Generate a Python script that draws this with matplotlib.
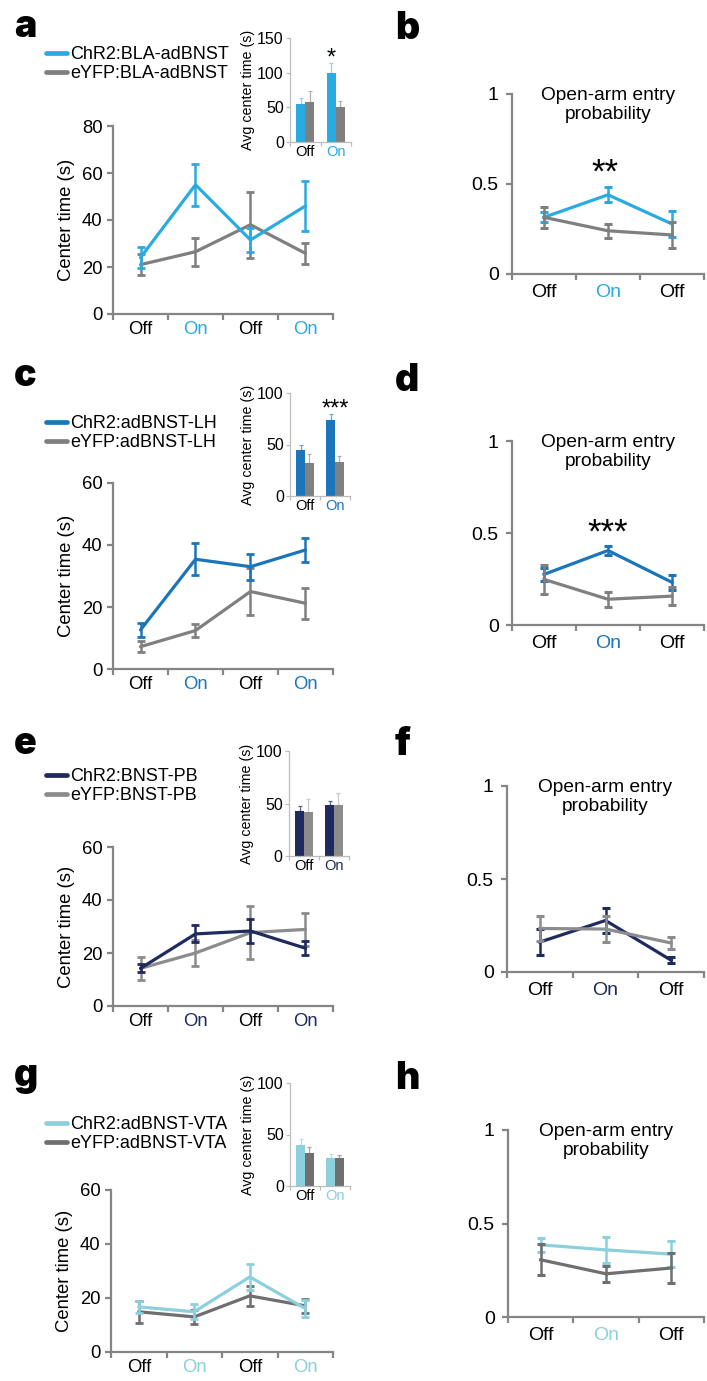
import matplotlib
matplotlib.use("Agg")
import matplotlib.pyplot as plt
from matplotlib import font_manager
import numpy as np

plt.rcParams['font.family'] = ['Liberation Sans', 'DejaVu Sans']

W, H = 707, 1381

# ---------------- data ----------------
labels4 = ['Off', 'On', 'Off', 'On']
labels3 = ['Off', 'On', 'Off']
inset_labels = ['Off', 'On']

a_names = ['ChR2:BLA-adBNST', 'eYFP:BLA-adBNST']
a_chr2 = [24, 55, 31.5, 46]
a_chr2_err = [4.5, 9, 5, 10.5]
a_eyfp = [21, 26.5, 38, 25.8]
a_eyfp_err = [4.4, 6, 14, 4.6]
a_in_chr2 = [55, 99]
a_in_chr2_err = [8, 15]
a_in_eyfp = [58, 51]
a_in_eyfp_err = [16, 8.5]
b_chr2 = [0.315, 0.44, 0.278]
b_chr2_err = [0.028, 0.042, 0.07]
b_eyfp = [0.315, 0.24, 0.217]
b_eyfp_err = [0.06, 0.04, 0.074]

c_names = ['ChR2:adBNST-LH', 'eYFP:adBNST-LH']
c_chr2 = [12.6, 35.4, 33, 38.4]
c_chr2_err = [2.2, 5.2, 4.2, 3.9]
c_eyfp = [7.2, 12.4, 25, 21.2]
c_eyfp_err = [1.8, 2, 7.7, 5]
c_in_chr2 = [45, 73.5]
c_in_chr2_err = [5, 6.5]
c_in_eyfp = [31.6, 33.2]
c_in_eyfp_err = [8.7, 5.5]
d_chr2 = [0.275, 0.405, 0.232]
d_chr2_err = [0.035, 0.025, 0.04]
d_eyfp = [0.248, 0.14, 0.157]
d_eyfp_err = [0.08, 0.04, 0.05]

e_names = ['ChR2:BNST-PB', 'eYFP:BNST-PB']
e_chr2 = [14.2, 27.2, 28.3, 21.8]
e_chr2_err = [1.5, 3.2, 4.6, 2.6]
e_eyfp = [14.2, 20, 27.7, 28.9]
e_eyfp_err = [4.4, 5, 10, 6.2]
e_in_chr2 = [43, 49]
e_in_chr2_err = [4.6, 3]
e_in_eyfp = [41.6, 49]
e_in_eyfp_err = [12.7, 11]
f_chr2 = [0.161, 0.277, 0.063]
f_chr2_err = [0.068, 0.067, 0.016]
f_eyfp = [0.234, 0.231, 0.156]
f_eyfp_err = [0.066, 0.068, 0.034]

g_names = ['ChR2:adBNST-VTA', 'eYFP:adBNST-VTA']
g_chr2 = [16.7, 14.9, 27.8, 16.1]
g_chr2_err = [2.3, 2.7, 4.7, 3]
g_eyfp = [14.9, 13, 20.8, 17.1]
g_eyfp_err = [4, 2.7, 3.6, 2.7]
g_in_chr2 = [39.7, 26.8]
g_in_chr2_err = [5.5, 3.8]
g_in_eyfp = [31.6, 26.8]
g_in_eyfp_err = [6.4, 3.2]
h_chr2 = [0.386, 0.359, 0.336]
h_chr2_err = [0.036, 0.068, 0.068]
h_eyfp = [0.306, 0.231, 0.262]
h_eyfp_err = [0.083, 0.042, 0.08]

# ---------------- styling ----------------
SPINE = '#858585'
INSPINE = '#BDBDBD'

# heavy font for panel letters if available
_heavy = None
for f in font_manager.fontManager.ttflist:
    if f.name in ('Lato', 'Inter', 'Roboto') and f.weight >= 850 and f.style == 'normal':
        _heavy = f.name
        break
LETTER_FAMILY = [_heavy, 'Liberation Sans'] if _heavy else ['Liberation Sans']
LETTER_WEIGHT = 900 if _heavy else 'bold'

fig = plt.figure(figsize=(W / 100, H / 100), dpi=100)


def px_axes(x0, x1, ytop, ybot):
    return fig.add_axes([x0 / W, 1 - ybot / H, (x1 - x0) / W, (ybot - ytop) / H])


def style_axes(ax, ncat, xlabels, ccol, tick_fs, spine_lw=1.6, spine_col=SPINE,
               ticklen=4.5, xpad=5, ypad=3):
    for s in ['top', 'right']:
        ax.spines[s].set_visible(False)
    for s in ['left', 'bottom']:
        ax.spines[s].set_color(spine_col)
        ax.spines[s].set_linewidth(spine_lw)
    xs = np.arange(1, ncat + 1)
    ax.set_xticks(xs)
    ax.set_xticklabels(xlabels, fontsize=tick_fs)
    for t, lab in zip(ax.get_xticklabels(), xlabels):
        t.set_color(ccol if lab == 'On' else 'black')
    ax.set_xticks(np.arange(0.5, ncat + 1, 1.0), minor=True)
    ax.tick_params(axis='x', which='major', length=0, pad=xpad)
    ax.tick_params(axis='x', which='minor', length=ticklen, width=spine_lw,
                   color=spine_col, direction='out')
    ax.tick_params(axis='y', which='major', length=ticklen, width=spine_lw,
                   color=spine_col, direction='out', labelsize=tick_fs, pad=ypad)


def main_panel(ax, chr2, chr2_err, eyfp, eyfp_err, ccol, gcol, ymax, yticks, names,
               leg_xy):
    xs = np.arange(1, len(chr2) + 1)
    lg, = ax.plot(xs, eyfp, color=gcol, lw=2.3, solid_capstyle='round', zorder=2)
    ax.errorbar(xs, eyfp, yerr=eyfp_err, fmt='none', ecolor=gcol, elinewidth=1.8,
                capsize=3, capthick=2, zorder=2)
    lc, = ax.plot(xs, chr2, color=ccol, lw=2.3, solid_capstyle='round', zorder=3)
    ax.errorbar(xs, chr2, yerr=chr2_err, fmt='none', ecolor=ccol, elinewidth=1.8,
                capsize=3, capthick=2, zorder=3)
    ax.set_xlim(0.5, 4.5)
    ax.set_ylim(0, ymax)
    ax.set_yticks(yticks)
    style_axes(ax, 4, labels4, ccol, 13.3, xpad=5)
    ax.set_ylabel('Center time (s)', fontsize=13.3, labelpad=5)
    leg = ax.legend([lc, lg], names, loc='upper left',
                    bbox_to_anchor=(leg_xy[0] / W, 1 - leg_xy[1] / H),
                    bbox_transform=fig.transFigure, frameon=False, borderpad=0,
                    borderaxespad=0, handlelength=1.15, handletextpad=0.2,
                    labelspacing=0.12, fontsize=13)
    for ln in leg.get_lines():
        ln.set_linewidth(3.4)
        ln.set_solid_capstyle('round')


def inset_panel(ax, chr2, chr2_err, eyfp, eyfp_err, ccol, gcol, ccol_l, gcol_l,
                ymax, yticks):
    xs = np.arange(1, 3)
    bw = 0.29
    ax.bar(xs - bw / 2, chr2, width=bw, color=ccol, zorder=2)
    ax.bar(xs + bw / 2, eyfp, width=bw, color=gcol, zorder=2)
    ax.errorbar(xs - bw / 2, chr2, yerr=[np.zeros(2), chr2_err], fmt='none',
                ecolor=ccol_l, elinewidth=0.9, capsize=1.5, capthick=0.9, zorder=1)
    ax.errorbar(xs + bw / 2, eyfp, yerr=[np.zeros(2), eyfp_err], fmt='none',
                ecolor=gcol_l, elinewidth=0.9, capsize=1.5, capthick=0.9, zorder=1)
    ax.set_xlim(0.5, 2.5)
    ax.set_ylim(0, ymax)
    ax.set_yticks(yticks)
    style_axes(ax, 2, inset_labels, ccol, 10.5, spine_lw=0.9, spine_col=INSPINE,
               ticklen=3, xpad=2, ypad=1.5)
    ax.tick_params(axis='y', labelsize=11.5)
    ax.set_ylabel('Avg center time (s)', fontsize=10.3, labelpad=1.5)


def right_panel(ax, chr2, chr2_err, eyfp, eyfp_err, ccol, gcol):
    xs = np.arange(1, 4)
    ax.plot(xs, chr2, color=ccol, lw=2.3, zorder=2)
    ax.errorbar(xs, chr2, yerr=chr2_err, fmt='none', ecolor=ccol, elinewidth=1.8,
                capsize=3.2, capthick=2.2, zorder=2)
    ax.plot(xs, eyfp, color=gcol, lw=2.3, zorder=3)
    ax.errorbar(xs, eyfp, yerr=eyfp_err, fmt='none', ecolor=gcol, elinewidth=1.8,
                capsize=3.2, capthick=2.2, zorder=3)
    ax.set_xlim(0.5, 3.45)
    ax.set_ylim(0, 1)
    ax.set_yticks([0, 0.5, 1])
    ax.set_yticklabels(['0', '0.5', '1'])
    style_axes(ax, 3, labels3, ccol, 14, ypad=5, xpad=7)
    ax.text(2, 1.04, 'Open-arm entry\nprobability', ha='center', va='top',
            fontsize=13.8, linespacing=1.2)


def letter(ch, x, y):
    fig.text(x / W, 1 - y / H, ch, fontsize=27, fontweight=LETTER_WEIGHT,
             family=LETTER_FAMILY, ha='left', va='baseline')


# colours
A_C, A_G = '#29ABE2', '#7F7F7F'
C_C, C_G = '#1B75BB', '#808080'
E_C, E_G = '#1F2A5E', '#8C8C8C'
G_C, G_G = '#8CCFDD', '#6F6F6F'

# ---------------- row a/b ----------------
ax = px_axes(113, 333, 126, 314)
main_panel(ax, a_chr2, a_chr2_err, a_eyfp, a_eyfp_err, A_C, A_G, 80,
           [0, 20, 40, 60, 80], a_names, (46, 46))
ax = px_axes(290, 351, 38, 142)
inset_panel(ax, a_in_chr2, a_in_chr2_err, a_in_eyfp, a_in_eyfp_err, A_C, A_G,
            '#8FD5F2', '#B0B0B0', 150, [0, 50, 100, 150])
ax.text(2 - 0.145, 120, '*', ha='center', va='center', fontsize=17)
ax = px_axes(512, 704, 94, 274)
right_panel(ax, b_chr2, b_chr2_err, b_eyfp, b_eyfp_err, A_C, A_G)
ax.text(1.95, 0.56, '**', ha='center', va='center', fontsize=25)

# ---------------- row c/d ----------------
ax = px_axes(113, 333, 483, 669)
main_panel(ax, c_chr2, c_chr2_err, c_eyfp, c_eyfp_err, C_C, C_G, 60,
           [0, 20, 40, 60], c_names, (46, 415))
ax = px_axes(290, 350, 393, 496)
inset_panel(ax, c_in_chr2, c_in_chr2_err, c_in_eyfp, c_in_eyfp_err, C_C, C_G,
            '#6FA6D6', '#B0B0B0', 100, [0, 50, 100])
ax.text(2, 84, '***', ha='center', va='center', fontsize=17)
ax = px_axes(512, 704, 441, 625)
right_panel(ax, d_chr2, d_chr2_err, d_eyfp, d_eyfp_err, C_C, C_G)
ax.text(2, 0.50, '***', ha='center', va='center', fontsize=25)

# ---------------- row e/f ----------------
ax = px_axes(113, 333, 847, 1006)
main_panel(ax, e_chr2, e_chr2_err, e_eyfp, e_eyfp_err, E_C, E_G, 60,
           [0, 20, 40, 60], e_names, (46, 768))
ax = px_axes(289, 349, 751, 856)
inset_panel(ax, e_in_chr2, e_in_chr2_err, e_in_eyfp, e_in_eyfp_err, E_C, E_G,
            '#5C6590', '#C8C8C8', 100, [0, 50, 100])
ax = px_axes(507, 704, 786, 972)
right_panel(ax, f_chr2, f_chr2_err, f_eyfp, f_eyfp_err, E_C, E_G)

# ---------------- row g/h ----------------
ax = px_axes(111, 333, 1190, 1352)
main_panel(ax, g_chr2, g_chr2_err, g_eyfp, g_eyfp_err, G_C, G_G, 60,
           [0, 20, 40, 60], g_names, (46, 1116))
ax = px_axes(290, 350, 1083, 1186)
inset_panel(ax, g_in_chr2, g_in_chr2_err, g_in_eyfp, g_in_eyfp_err, G_C, G_G,
            '#B5E1EA', '#A5A5A5', 100, [0, 50, 100])
ax = px_axes(508, 704, 1130, 1317)
right_panel(ax, h_chr2, h_chr2_err, h_eyfp, h_eyfp_err, G_C, G_G)

# panel letters
letter('a', 14, 37)
letter('b', 395, 39)
letter('c', 14, 386)
letter('d', 395, 391)
letter('e', 14, 754)
letter('f', 395, 755)
letter('g', 14, 1086)
letter('h', 395, 1089)

fig.savefig('out.png', dpi=100)
